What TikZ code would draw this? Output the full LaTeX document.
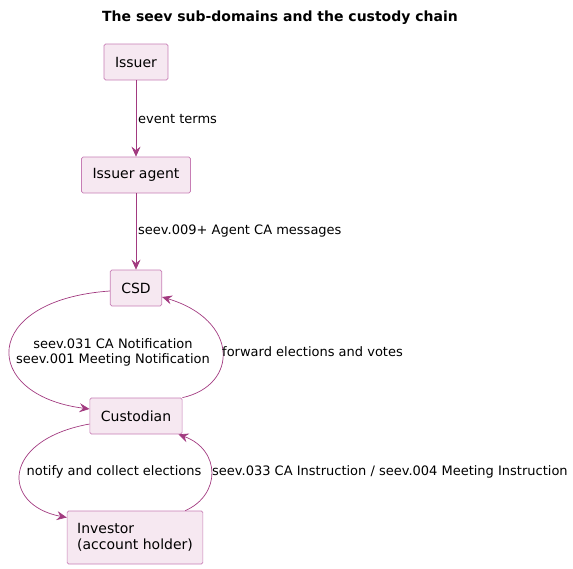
\documentclass[tikz,border=0pt]{standalone}
\usepackage{fontspec}
\setmainfont{DejaVu Sans}
\usetikzlibrary{arrows.meta}
\definecolor{boxfill}{HTML}{F6E8F1}
\definecolor{boxline}{HTML}{C77DB5}
\definecolor{flow}{HTML}{A23A80}
\tikzset{
	party/.style = {draw=boxline, line width=0.7pt, fill=boxfill, rounded corners=1.5pt, minimum height=36pt, inner xsep=11pt, font=\fontsize{14}{16.5}\selectfont},
	msg/.style = {flow, line width=0.7pt, -{Stealth[length=10pt,width=9pt,inset=3.5pt]}},
	lbl/.style = {font=\fontsize{13}{15}\selectfont, inner sep=0pt}
}
\begin{document}
\begin{tikzpicture}[x=1pt, y=-1pt]
			\useasboundingbox (0,0) rectangle (573,568);
			\node[font=\fontsize{14}{16}\bfseries] (title) at (280,18) {The seev sub-domains and the custody chain};
			
			\node[party] (issuer) at (136,62) {Issuer};
			\node[party] (agent) at (136,175) {Issuer agent};
			\node[party] (csd) at (136,288) {CSD};
			\node[party] (cust) at (136,416) {Custodian};
			\node[party, align=left, minimum height=53pt, inner xsep=10pt] (inv) at (135,537.5) {Investor\\(account holder)};
			
			\draw[msg] (issuer) -- (agent);
			\draw[msg] (agent) -- (csd);
			\draw[msg] ([yshift=-3pt]csd.west) .. controls (-20,300) and (-20,395) .. ([yshift=7pt]cust.west);
			\draw[msg] (cust.north east) .. controls (239,385) and (239,320) .. ([yshift=-9pt]csd.east);
			\draw[msg] ([yshift=-8pt]cust.west) .. controls (1,440) and (1,505) .. ([yshift=20pt]inv.west);
			\draw[msg] ([xshift=-18pt]inv.north east) .. controls (221,495) and (221,450) .. ([xshift=-4pt]cust.south east);
			
			\node[lbl, anchor=west] (l1) at (138,119) {event terms};
			\node[lbl, anchor=west] (l2) at (138,231) {seev.009+ Agent CA messages};
			\node[lbl, align=center] (l3) at (113,352) {seev.031 CA Notification\\seev.001 Meeting Notification};
			\node[lbl, anchor=west] (l4) at (222,352) {forward elections and votes};
			\node[lbl] (l5) at (114,472) {notify and collect elections};
			\node[lbl, anchor=west] (l6) at (212,472) {seev.033 CA Instruction / seev.004 Meeting Instruction};
\end{tikzpicture}
\end{document}
